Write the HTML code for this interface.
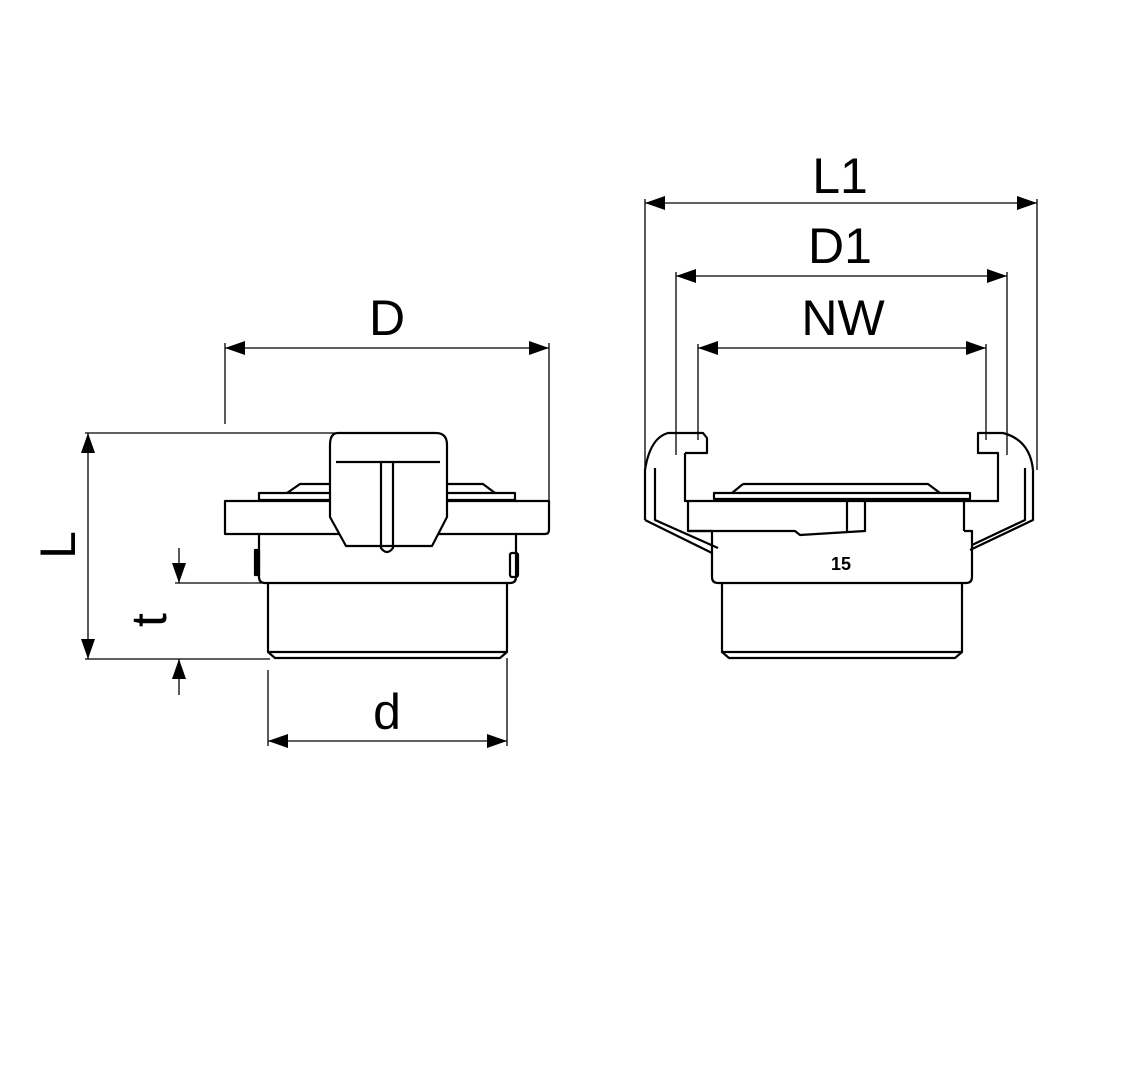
<!DOCTYPE html>
<html><head><style>body{margin:0;background:#fff}svg{display:block}</style></head><body>
<svg width="1134" height="1080" viewBox="0 0 1134 1080" xmlns="http://www.w3.org/2000/svg">
<defs>
<marker id="a" viewBox="0 0 20 14" refX="20" refY="7" markerWidth="20" markerHeight="14" markerUnits="userSpaceOnUse" orient="auto-start-reverse"><path d="M0,0L20,7L0,14z" fill="#000"/></marker>
</defs>
<g font-family="Liberation Sans, sans-serif" font-size="50" text-anchor="middle" fill="#000">
<text x="387" y="335">D</text>
<text x="387" y="729">d</text>
<text x="840" y="193">L1</text>
<text x="840" y="263">D1</text>
<text x="843" y="335">NW</text>
<text transform="translate(75,545) rotate(-90)">L</text>
<text transform="translate(166,620) rotate(-90)">t</text>
</g>
<g stroke="#000" stroke-width="1.3" fill="none">
<!-- dims left -->
<line x1="225" y1="348" x2="549" y2="348" marker-start="url(#a)" marker-end="url(#a)"/>
<line x1="225" y1="343" x2="225" y2="424"/>
<line x1="549" y1="343" x2="549" y2="500"/>
<line x1="85" y1="433" x2="338" y2="433"/>
<line x1="88" y1="433" x2="88" y2="659" marker-start="url(#a)" marker-end="url(#a)"/>
<line x1="85" y1="659" x2="270" y2="659"/>
<line x1="175" y1="583" x2="262" y2="583"/>
<line x1="179" y1="548" x2="179" y2="583" marker-end="url(#a)"/>
<line x1="179" y1="695" x2="179" y2="659" marker-end="url(#a)"/>
<line x1="268" y1="741" x2="507" y2="741" marker-start="url(#a)" marker-end="url(#a)"/>
<line x1="268" y1="670" x2="268" y2="746"/>
<line x1="507" y1="658" x2="507" y2="746"/>
<!-- dims right -->
<line x1="645" y1="203" x2="1037" y2="203" marker-start="url(#a)" marker-end="url(#a)"/>
<line x1="645" y1="199" x2="645" y2="470"/>
<line x1="1037" y1="199" x2="1037" y2="470"/>
<line x1="676" y1="276" x2="1007" y2="276" marker-start="url(#a)" marker-end="url(#a)"/>
<line x1="676" y1="272" x2="676" y2="455"/>
<line x1="1007" y1="272" x2="1007" y2="455"/>
<line x1="698" y1="348" x2="986" y2="348" marker-start="url(#a)" marker-end="url(#a)"/>
<line x1="698" y1="344" x2="698" y2="440"/>
<line x1="986" y1="344" x2="986" y2="440"/>
</g>
<g stroke="#000" stroke-width="2.2" fill="none" stroke-linejoin="round">
<!-- left view -->
<path d="M287,493L300,484L330,484M447,484L483,484L495,493"/>
<rect x="259" y="493" width="256" height="7"/>
<path d="M225,501L549,501L549,530Q549,534 545,534L225,534Z"/>
<path d="M259,534L259,577Q259,583 265,583L510,583Q516,583 516,577L516,534"/>
<path d="M268,583L268,652L275,658L500,658L507,652L507,583M268,652L507,652"/>
<path d="M338,433L436,433Q447,433 447,445L447,517L432,546L346,546L330,517L330,445Q330,433 338,433Z" fill="#fff"/>
<line x1="336" y1="462" x2="440" y2="462"/>
<path d="M381,462L381,548Q387,556 393,548L393,462"/>
<rect x="255" y="550" width="4" height="25" fill="#000"/>
<rect x="510" y="553" width="8" height="24" rx="2"/>
<!-- right view -->
<path d="M743,484L928,484L940,493"/>
<path d="M743,484L732,493"/>
<rect x="714" y="493" width="256" height="6"/>
<path d="M685,453L685,501L998,501L998,453L978,453L978,433L1003,433Q1030,440 1033,470L1033,520L970,550"/>
<path d="M645,520L645,470Q650,438 668,433L703,433L707,438L707,453L685,453"/>
<path d="M645,520L712,553M655,468L655,520L718,548M1025,468L1025,520L972,545"/>
<path d="M688,501L688,531L795,531L800,535L865,531L865,501M847,501L847,531"/>
<path d="M964,501L964,531"/>
<path d="M712,531L712,577Q712,583 718,583L966,583Q972,583 972,577L972,531L964,531M712,531L688,531"/>
<path d="M722,583L722,652L729,658L955,658L962,652L962,583M722,652L962,652"/>
<text x="841" y="570" font-family="Liberation Sans, sans-serif" font-size="18" font-weight="bold" text-anchor="middle" fill="#000" stroke="none">15</text>
</g>
</svg>
</body></html>
